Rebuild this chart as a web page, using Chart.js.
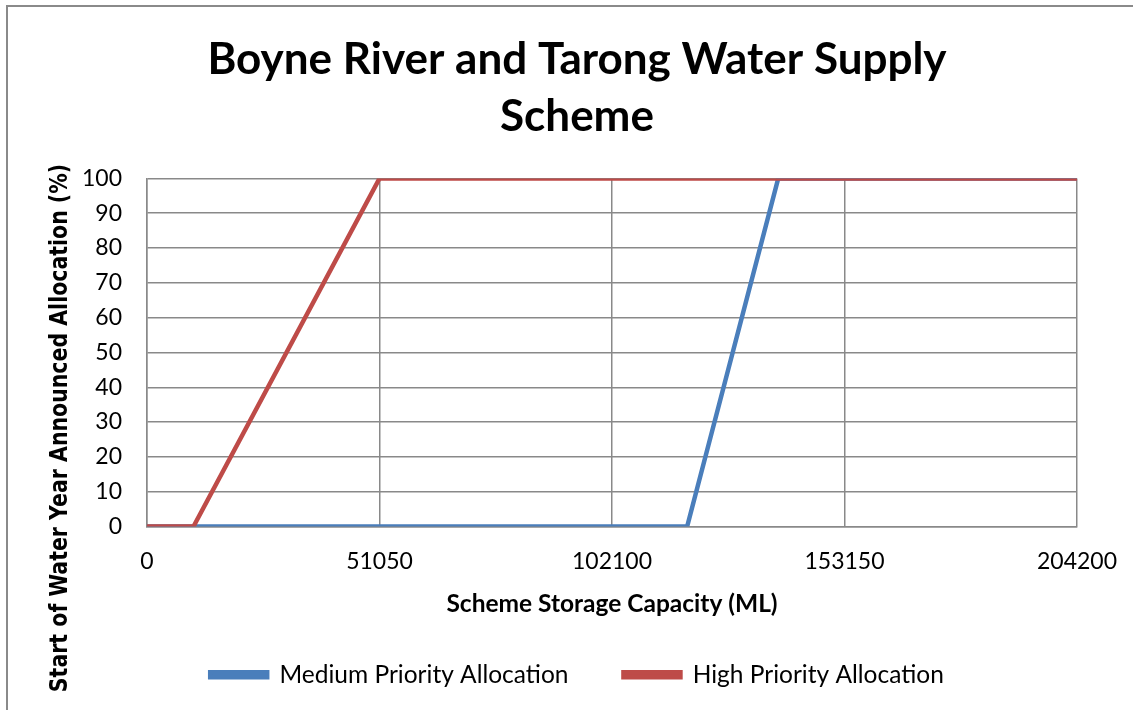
<!DOCTYPE html>
<html>
<head>
<meta charset="utf-8">
<script src="https://cdn.jsdelivr.net/npm/chart.js@4"></script>
<style>
  html, body { margin: 0; padding: 0; background: #fff; }
  #wrap { width: 1134px; height: 710px; position: relative; }
</style>
</head>
<body>
<div id="wrap"><canvas id="chart" width="1134" height="710"></canvas></div>
<script>
/* Datos */
const mediumX = [0, 118600, 138600, 204200];
const mediumY = [0, 0, 100, 100];
const highX = [0, 10200, 51050, 204200];
const highY = [0, 0, 100, 100];
const xTicks = [0, 51050, 102100, 153150, 204200];
const yTicks = [0, 10, 20, 30, 40, 50, 60, 70, 80, 90, 100];

const titleLines = ["Boyne River and Tarong Water Supply", "Scheme"];
const xTitle = "Scheme Storage Capacity (ML)";
const yTitle = "Start of Water Year Announced Allocation (%)";

const blue = "#4A7EBB";
const red = "#BE4B48";
const gridColor = "#898989";

const toPoints = (xs, ys) => xs.map((x, i) => ({ x: x, y: ys[i] }));

// marco gris y titulo del eje y
const extras = {
  id: "extras",
  beforeDraw(chart) {
    const ctx = chart.ctx;
    ctx.save();
    ctx.fillStyle = "#fff";
    ctx.fillRect(0, 0, chart.width, chart.height);
    ctx.strokeStyle = "#8a8a8a";
    ctx.lineWidth = 2;
    ctx.beginPath();
    ctx.moveTo(7, 710);
    ctx.lineTo(7, 6);
    ctx.lineTo(1133, 6);
    ctx.stroke();
    ctx.restore();
  },
  afterDraw(chart) {
    const ctx = chart.ctx;
    ctx.save();
    ctx.translate(67, 428);
    ctx.rotate(-Math.PI / 2);
    ctx.scale(1, 1.2);
    ctx.font = "bold 20.5px 'DejaVu Sans'";
    ctx.fillStyle = "#000";
    ctx.textAlign = "center";
    ctx.textBaseline = "alphabetic";
    ctx.fillText(yTitle, 0, 0);
    ctx.restore();
  },
};

const ctx = document.getElementById("chart").getContext("2d");

const config = {
  type: "line",
  data: {
    datasets: [
      {
        label: "Medium Priority Allocation",
        data: toPoints(mediumX, mediumY),
        borderColor: blue,
        backgroundColor: blue,
        borderWidth: 4.5,
        pointRadius: 0,
        fill: false,
        tension: 0,
        order: 1,
      },
      {
        label: "High Priority Allocation",
        data: toPoints(highX, highY),
        borderColor: red,
        backgroundColor: red,
        borderWidth: 4.5,
        pointRadius: 0,
        fill: false,
        tension: 0,
        order: 0,
      },
    ],
  },
  options: {
    responsive: false,
    animation: false,
    layout: {
      padding: { left: 77, right: 57, top: 0, bottom: 13 },
    },
    plugins: {
      title: {
        display: true,
        text: titleLines,
        color: "#000",
        font: { family: "Lato", size: 44, weight: "bold", lineHeight: 1.3 },
        padding: { top: 31, bottom: 33 },
      },
      legend: {
        position: "bottom",
        labels: {
          color: "#000",
          font: { family: "Lato", size: 24.5 },
          boxWidth: 57,
          boxHeight: 5,
          padding: 55,
          sort: (a, b) => a.datasetIndex - b.datasetIndex,
        },
      },
      tooltip: { enabled: false },
    },
    scales: {
      x: {
        type: "linear",
        min: 0,
        max: 204200,
        afterBuildTicks: (axis) => {
          axis.ticks = xTicks.map((v) => ({ value: v }));
        },
        afterFit: (axis) => {
          axis.paddingRight = 0;
        },
        grid: { color: gridColor, lineWidth: 1.5, drawTicks: false },
        border: { color: gridColor, width: 1.5 },
        ticks: {
          color: "#000",
          font: { family: "Lato", size: 23 },
          padding: 21,
          maxRotation: 0,
          callback: (v) => String(v),
        },
        title: {
          display: true,
          text: xTitle,
          color: "#000",
          font: { family: "Lato", size: 24.5, weight: "bold" },
          padding: { top: -7, bottom: -11 },
        },
      },
      y: {
        min: 0,
        max: 100,
        afterBuildTicks: (axis) => {
          axis.ticks = yTicks.map((v) => ({ value: v }));
        },
        afterFit: (axis) => {
          axis.width -= 20;
        },
        grid: { color: gridColor, lineWidth: 1.5, drawTicks: false },
        border: { color: gridColor, width: 1.5 },
        ticks: {
          color: "#000",
          font: { family: "Lato", size: 23 },
          padding: 25,
        },
      },
    },
  },
  plugins: [extras],
};

new Chart(ctx, config);
</script>
</body>
</html>
